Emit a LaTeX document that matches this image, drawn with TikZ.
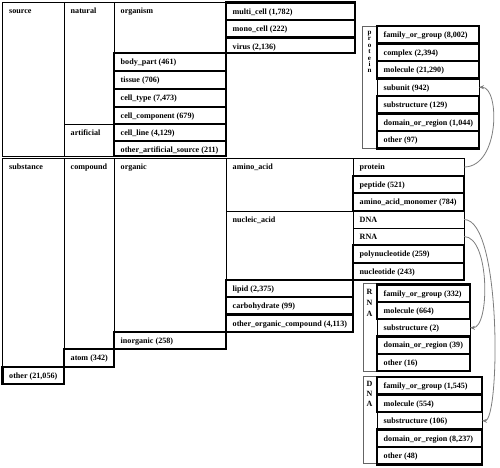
\documentclass[tikz,border=0pt]{standalone}
\usepackage{fontspec}
\setmainfont{Liberation Serif}
\usetikzlibrary{calc,arrows.meta}

\definecolor{linkgray}{RGB}{125,125,125}
\definecolor{panelgray}{RGB}{100,100,100}

\tikzset{
  thincell/.style={draw=black, line width=0.7pt, anchor=north west, inner sep=0pt, outer sep=0pt},
  leafcell/.style={draw=black, line width=2.2pt, anchor=north west, inner sep=0pt, outer sep=0pt},
  panel/.style={draw=panelgray, line width=0.7pt, anchor=north west, inner sep=0pt, outer sep=0pt},
  celltext/.style={anchor=base west, inner sep=0pt, font=\fontsize{8.1}{9}\selectfont\bfseries},
  vertletters/.style={anchor=north, inner sep=0pt, align=center},
  link/.style={draw=linkgray, line width=0.8pt, -{Stealth[length=5pt,width=4pt]}},
}

% x, y, width, height, style, name, label
\newcommand{\catcell}[7]{%
  \node[#5, minimum width=#3pt, minimum height=#4pt] (#6) at (#1,#2) {};
  \node[celltext] (#6-t) at ($(#6.north west)+(6.5,11.5)$) {#7};
}

\begin{document}
\begin{tikzpicture}[x=1pt, y=-1pt]
    \useasboundingbox (0,0) rectangle (500,467);
    % Source
    \catcell{2.5}{2}{61.5}{154}{thincell}{source}{source}
    \catcell{64}{2}{50}{122}{thincell}{natural}{natural}
    \catcell{64}{124}{50}{32}{thincell}{artificial}{artificial}
    \catcell{114}{2}{112}{51}{thincell}{organism}{organism}
    \catcell{226}{2.5}{129}{17.5}{leafcell}{multicell}{multi\_cell (1,782)}
    \catcell{226}{20}{129}{17.5}{leafcell}{monocell}{mono\_cell (222)}
    \catcell{226}{37.5}{129}{15.5}{leafcell}{virus}{virus (2,136)}
    \catcell{114}{53}{112}{18}{leafcell}{bodypart}{body\_part (461)}
    \catcell{114}{71}{112}{18}{leafcell}{tissue}{tissue (706)}
    \catcell{114}{89}{112}{18}{leafcell}{celltype}{cell\_type (7,473)}
    \catcell{114}{107}{112}{17}{leafcell}{cellcomp}{cell\_component (679)}
    \catcell{114}{124}{112}{17}{leafcell}{cellline}{cell\_line (4,129)}
    \catcell{114}{141}{112}{15}{leafcell}{otherartificial}{other\_artificial\_source (211)}
    % Substance
    \catcell{2.5}{158}{61.5}{209}{thincell}{substance}{substance}
    \catcell{64}{158}{50}{191}{thincell}{compound}{compound}
    \catcell{114}{158}{112}{174}{thincell}{organic}{organic}
    \catcell{226}{158}{127}{53}{thincell}{aminoacid}{amino\_acid}
    \catcell{226}{211}{127}{69}{thincell}{nucleicacid}{nucleic\_acid}
    \catcell{353}{158}{111}{18}{thincell}{protein}{protein}
    \catcell{353}{211}{111}{17}{thincell}{dna}{DNA}
    \catcell{353}{228}{111}{17}{thincell}{rna}{RNA}
    \catcell{353}{176}{111}{17}{leafcell}{peptide}{peptide (521)}
    \catcell{353}{193}{111}{18}{leafcell}{monomer}{amino\_acid\_monomer (784)}
    \catcell{353}{245}{111}{18}{leafcell}{polynuc}{polynucleotide (259)}
    \catcell{353}{263}{111}{17}{leafcell}{nucleotide}{nucleotide (243)}
    \catcell{226}{280}{127}{17}{leafcell}{lipid}{lipid (2,375)}
    \catcell{226}{297}{127}{17.5}{leafcell}{carbohydrate}{carbohydrate (99)}
    \catcell{226}{314.5}{127}{17.5}{leafcell}{otherorganic}{other\_organic\_compound (4,113)}
    \catcell{114}{332}{112}{17}{leafcell}{inorganic}{inorganic (258)}
    \catcell{64}{349}{50}{18}{leafcell}{atom}{atom (342)}
    \catcell{2.5}{367}{61.5}{17}{leafcell}{other}{other (21,056)}
    % Protein panel
    \node[panel, minimum width=117pt, minimum height=122.5pt] (proteinpanel) at (362,26) {};
    \node[vertletters, font=\fontsize{7}{6.4}\selectfont\bfseries] (proteinletters) at (369.5,31) {p\\r\\o\\t\\e\\i\\n};
    \catcell{377}{26}{102}{17.5}{leafcell}{pfamily}{family\_or\_group (8,002)}
    \catcell{377}{43.5}{102}{17.5}{leafcell}{pcomplex}{complex (2,394)}
    \catcell{377}{61}{102}{17.5}{leafcell}{pmolecule}{molecule (21,290)}
    \catcell{377}{96}{102}{17.5}{leafcell}{psubstructure}{substructure (129)}
    \catcell{377}{113.5}{102}{17.5}{leafcell}{pdomain}{domain\_or\_region (1,044)}
    \catcell{377}{131}{102}{17.5}{leafcell}{pother}{other (97)}
    \catcell{377}{78.5}{102}{17.5}{thincell}{psubunit}{subunit (942)}
    % RNA panel
    \node[panel, minimum width=107pt, minimum height=88pt] (rnapanel) at (363,283) {};
    \node[vertletters, font=\fontsize{8}{10.8}\selectfont\bfseries] (rnaletters) at (369.5,289.5) {R\\N\\A};
    \catcell{377}{284.5}{93}{17.3}{leafcell}{rfamily}{family\_or\_group (332)}
    \catcell{377}{301.8}{93}{17.3}{leafcell}{rmolecule}{molecule (664)}
    \catcell{377}{336.4}{93}{17.3}{leafcell}{rdomain}{domain\_or\_region (39)}
    \catcell{377}{353.7}{93}{17.3}{leafcell}{rother}{other (16)}
    \catcell{377}{319.1}{93}{17.3}{thincell}{rsubstructure}{substructure (2)}
    % DNA panel
    \node[panel, minimum width=119pt, minimum height=87pt] (dnapanel) at (363,376) {};
    \node[vertletters, font=\fontsize{8}{10}\selectfont\bfseries] (dnaletters) at (369.5,381) {D\\N\\A};
    \catcell{377}{377}{105}{17.5}{leafcell}{dfamily}{family\_or\_group (1,545)}
    \catcell{377}{394.5}{105}{17.5}{leafcell}{dmolecule}{molecule (554)}
    \catcell{377}{429.5}{105}{17.5}{leafcell}{ddomain}{domain\_or\_region (8,237)}
    \catcell{377}{447}{105}{17.5}{leafcell}{dother}{other (48)}
    \catcell{377}{412}{105}{17.5}{thincell}{dsubstructure}{substructure (106)}
    % Links
    \draw[link] (protein.east) .. controls (500,167) and (500,87) .. (psubunit.east);
    \draw[link] (dna.east) .. controls (502,219) and (500,421) .. (dsubstructure.east);
    \draw[link] (rna.east) .. controls (490,236.5) and (490,328) .. (rsubstructure.east);
\end{tikzpicture}
\end{document}
